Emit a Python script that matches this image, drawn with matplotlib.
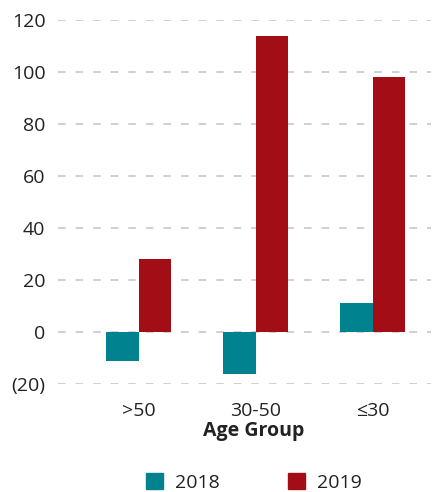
import numpy as np
import matplotlib.pyplot as plt
from matplotlib.patches import Patch

plt.rcParams['font.family'] = ['Open Sans', 'DejaVu Sans']

groups = ['>50', '30-50', '≤30']
vals_2018 = [-11, -16, 11]
vals_2019 = [28, 114, 98]
yticks = [-20, 0, 20, 40, 60, 80, 100, 120]
ytick_labels = ['(20)', '0', '20', '40', '60', '80', '100', '120']

teal = '#00838f'
red = '#a30d16'
txt = '#222222'

fig = plt.figure(figsize=(4.39, 4.92), dpi=100)
ax = fig.add_axes([58 / 439, 1 - 384 / 492, (431 - 58) / 439, 364 / 492])

x = np.arange(len(groups))
w = 0.28
ax.bar(x - w / 2, vals_2018, w, color=teal, label='2018', zorder=3)
ax.bar(x + w / 2, vals_2019, w, color=red, label='2019', zorder=3)

ax.set_xlim(-0.69, 2.5)
ax.set_ylim(-20, 120)
ax.set_yticks(yticks)
ax.set_yticklabels(ytick_labels)
ax.set_xticks(x)
ax.set_xticklabels(groups)
ax.yaxis.grid(True, color='#c4c4c4', linewidth=1.1, dashes=(5, 6.5), zorder=0)
ax.set_axisbelow(True)
for s in ax.spines.values():
    s.set_visible(False)
ax.tick_params(axis='both', length=0, labelsize=14, colors=txt)
ax.tick_params(axis='y', pad=9)
ax.tick_params(axis='x', pad=13)
ax.set_xlabel('Age Group', fontsize=14, fontweight='bold', color=txt, labelpad=0)
ax.xaxis.set_label_coords(0.525, -0.103)

handles = [Patch(color=teal, label='2018'), Patch(color=red, label='2019')]
fig.legend(handles=handles, loc='lower center', bbox_to_anchor=(0.578, -0.035), ncol=2,
           frameon=False, fontsize=14, handlelength=0.9, handleheight=0.9,
           handletextpad=0.6, columnspacing=3.5, labelcolor=txt)

fig.savefig('out.png', dpi=100)
